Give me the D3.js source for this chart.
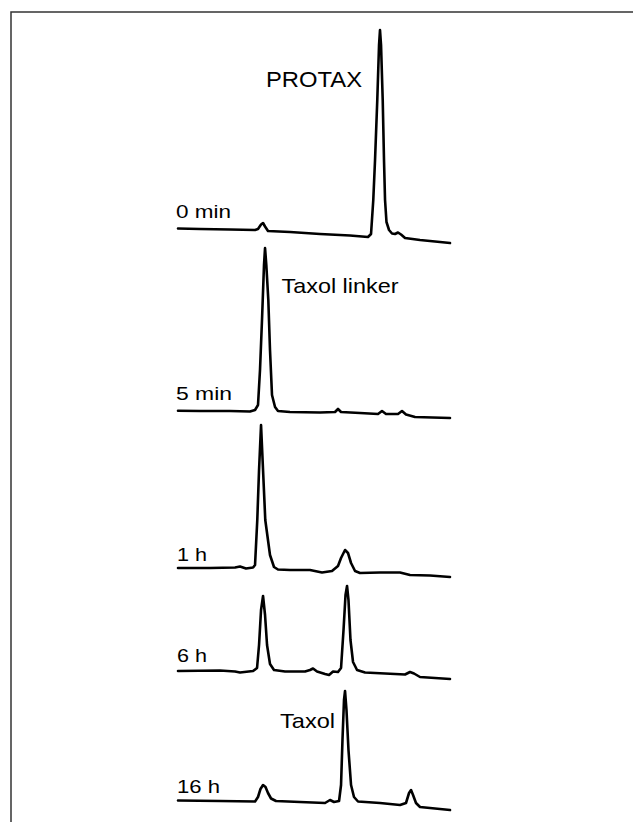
<!DOCTYPE html>
<html>
<head>
<meta charset="utf-8">
<script src="https://cdn.jsdelivr.net/npm/d3@7"></script>
<style>
  body { margin: 0; background: #fff; }
  text { font-family: "Liberation Sans", Arial, sans-serif; fill: #000; }
</style>
</head>
<body>
<div class="chart"></div>
<script>
"use strict"

// retention time (min), detector signal (mAU)
const trace0min = [[0,14.5],[2.75,14],[6.5,13.5],[9.63,13],[10,14],[10.38,18.5],[10.63,20],[10.88,16.5],[11.25,12],
  [14,11],[17.75,9],[21.5,7.5],[23,6.5],[23.75,6],[24.13,9],[24.41,43],[24.63,83],[24.91,143],[25.13,198],[25.25,213],
  [25.38,198],[25.59,143],[25.75,83],[25.88,43],[26.06,21],[26.38,13],[26.75,9.5],[27.13,9],[27.5,10.5],[27.88,8.5],
  [28.38,5],[30.25,3],[32.13,1.5],[34,0]];
const trace5min = [[0,7.3],[2.75,7],[6.5,7],[9,6.5],[9.63,8],[10,13],[10.25,48],[10.5,98],[10.75,153],[10.88,170],
  [11.04,153],[11.29,118],[11.5,68],[11.75,23],[12.13,11],[12.5,7],[14,6],[17.75,5.5],[19.63,6],[20,9],[20.38,6],
  [22.75,5],[25,4],[25.5,7],[26,4],[27.5,4],[28,7],[28.5,3.5],[29.63,1],[34,0]];
const trace1h = [[0,9],[4,9],[7.13,9.5],[7.75,10.5],[8.5,8.5],[9.38,9.5],[9.63,12],[9.91,57],[10.13,107],[10.38,152],
  [10.63,107],[10.91,57],[11.5,22],[12,10],[12.5,7.5],[14,7],[16.5,7],[18,4.5],[19.25,6],[20,11],[20.38,19],[20.88,27],
  [21.25,24],[21.63,14],[22.13,6],[22.75,4],[25.25,4.5],[27.75,4.5],[29,2],[31.5,1.5],[34,0]];
const trace6h = [[0,8],[5.25,8.5],[7.13,7.5],[7.75,6.5],[9.38,8],[9.88,11],[10.13,34],[10.38,69],[10.63,83],[10.88,64],
  [11.13,34],[11.5,15],[12,9],[13.38,7.5],[15.88,7.5],[16.5,9],[16.88,10.5],[17.38,7.5],[18.38,5],[18.88,4],[19.38,7.5],
  [20,7],[20.38,11],[20.69,49],[20.94,84],[21.13,93],[21.31,79],[21.56,39],[21.88,17],[22.38,9],[23.38,6.5],[27.13,5],
  [28.38,4.5],[29,7],[29.5,5.5],[30.25,2],[34,0]];
const trace16h = [[0,9.5],[5.25,9],[9.63,8.5],[10,13],[10.31,21],[10.63,25],[10.94,23],[11.25,17],[11.63,11.5],
  [12.25,9],[15.25,8],[18.38,7],[19,10],[19.5,8],[20.13,9],[20.38,25],[20.56,70],[20.75,110],[20.88,119],[21.06,100],
  [21.31,60],[21.63,25],[22,13],[22.5,8.5],[25.25,7],[27.75,5],[28.5,7],[28.88,17],[29.13,20],[29.38,15],[29.75,7],
  [30.25,3],[34,0]];

const timeLabels = ["0 min", "5 min", "1 h", "6 h", "16 h"];
const peakLabels = ["PROTAX", "Taxol linker", "Taxol"];

const traces = [trace0min, trace5min, trace1h, trace6h, trace16h];
// where each trace's zero sits on the page, and where its label goes
const zeroY = [243, 418, 577, 679, 810];
const timeLabelPos = [[176, 218, 55], [176, 400, 56], [177, 560.5, 30], [177, 662, 30], [177, 793, 43]];
const peakLabelPos = [[266, 86.5, 96, 22], [281.5, 293, 117, 21], [280, 728, 55, 21]];

let svg = d3.select(".chart")
  .append("svg")
  .attr("width", 633)
  .attr("height", 822);

// frame: top and left edges only
svg.append("path")
  .attr("d", "M11,822V12H633")
  .attr("fill", "none")
  .attr("stroke", "#333")
  .attr("stroke-width", 1.5);

let x = d3.scaleLinear().domain([0, 34]).range([178, 450]);
let y = d3.scaleLinear().domain([0, 220]).range([0, -220]);

let line = d3.line()
  .x(function (d) { return x(d[0]); })
  .y(function (d) { return y(d[1]); });

svg.selectAll("g.trace")
  .data(traces)
  .enter()
  .append("g")
  .attr("class", "trace")
  .attr("transform", function (d, i) { return "translate(0," + zeroY[i] + ")"; })
  .append("path")
  .attr("d", line)
  .attr("fill", "none")
  .attr("stroke", "#000")
  .attr("stroke-width", 2.6)
  .attr("stroke-linejoin", "round")
  .attr("stroke-linecap", "round");

svg.selectAll("text.time")
  .data(timeLabels)
  .enter()
  .append("text")
  .attr("class", "time")
  .attr("x", function (d, i) { return timeLabelPos[i][0]; })
  .attr("y", function (d, i) { return timeLabelPos[i][1]; })
  .attr("textLength", function (d, i) { return timeLabelPos[i][2]; })
  .attr("lengthAdjust", "spacingAndGlyphs")
  .style("font-size", "19px")
  .text(function (d) { return d; });

svg.selectAll("text.peak")
  .data(peakLabels)
  .enter()
  .append("text")
  .attr("class", "peak")
  .attr("x", function (d, i) { return peakLabelPos[i][0]; })
  .attr("y", function (d, i) { return peakLabelPos[i][1]; })
  .attr("textLength", function (d, i) { return peakLabelPos[i][2]; })
  .attr("lengthAdjust", "spacingAndGlyphs")
  .style("font-size", function (d, i) { return peakLabelPos[i][3] + "px"; })
  .text(function (d) { return d; });
</script>
</body>
</html>
